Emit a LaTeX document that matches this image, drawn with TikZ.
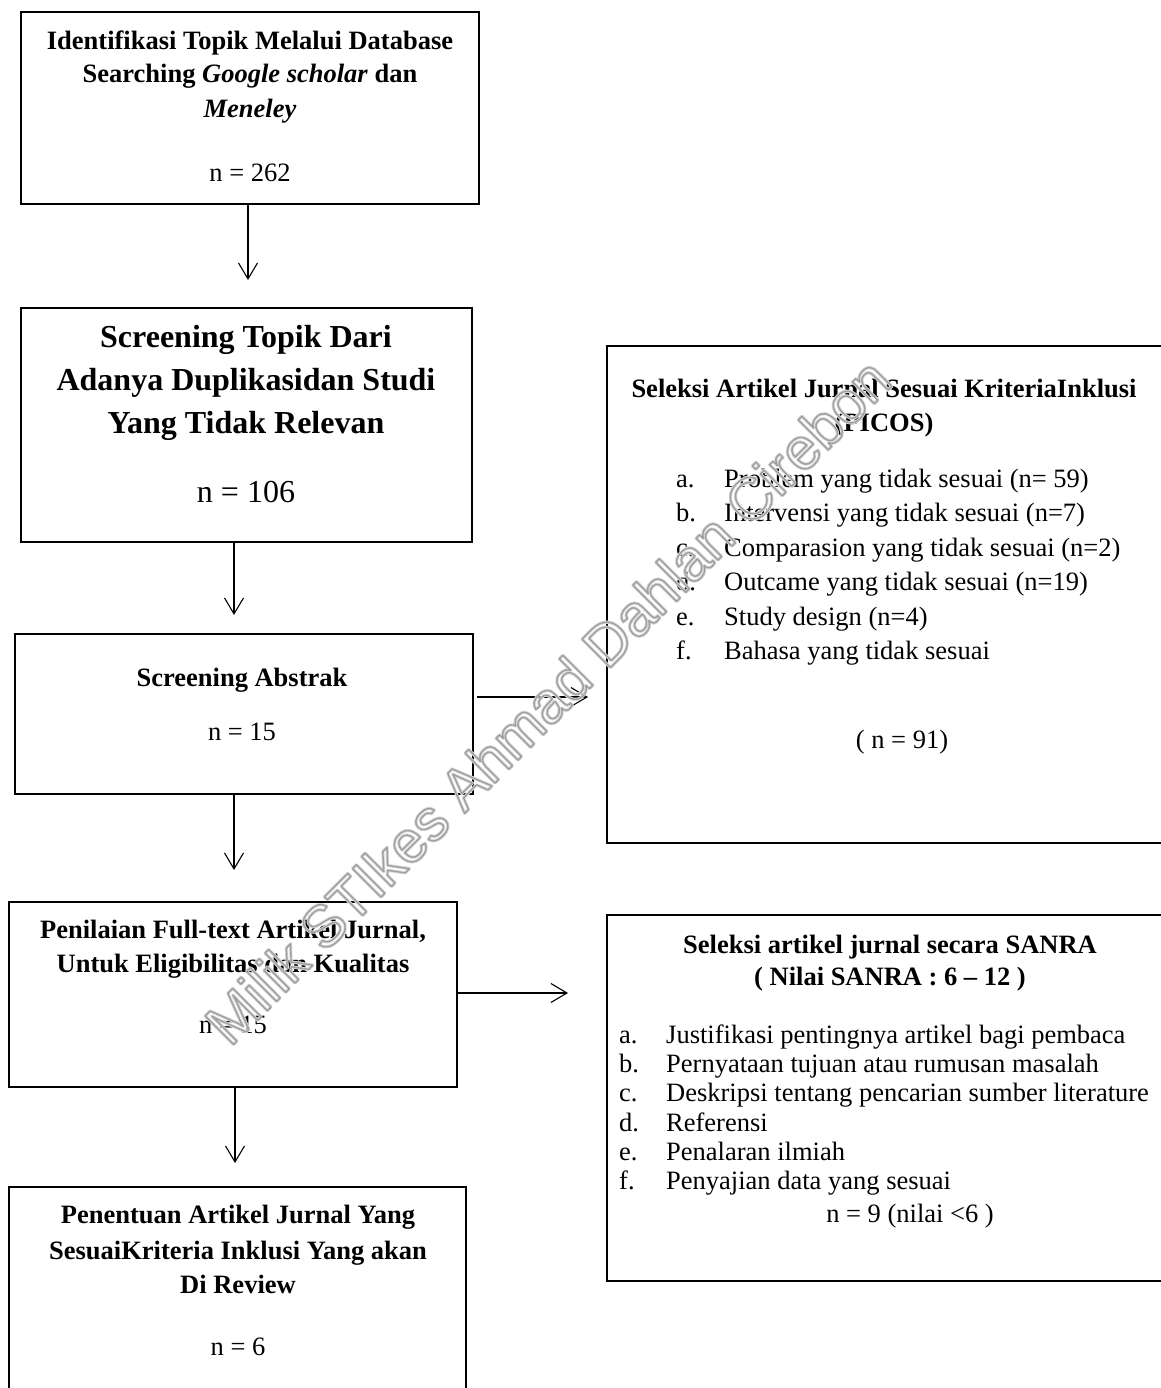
\documentclass[tikz,border=0pt]{standalone}
\usepackage{fontspec}
\setmainfont{Liberation Serif}
\newfontfamily\wmfont{Liberation Sans}
\usetikzlibrary{arrows.meta,calc}
\newcommand{\wmstroke}[2]{\special{pdf:literal direct 1 Tr #1 w 1 j}#2\special{pdf:literal direct 0 Tr}}
\begin{document}
\begin{tikzpicture}[x=1pt,y=-1pt,
  box/.style={draw, line width=2.4pt, inner sep=0pt},
  flow/.style={line width=1.1pt, -{Straight Barb[length=16pt,width=19pt,line width=1.1pt]}},
  hb/.style={font=\fontsize{26.5}{30}\selectfont\bfseries, anchor=base, inner sep=0pt},
  hbig/.style={font=\fontsize{32}{36}\selectfont\bfseries, anchor=base, inner sep=0pt},
  tx/.style={font=\fontsize{26.5}{30}\selectfont, anchor=base, inner sep=0pt},
  txbig/.style={font=\fontsize{32}{36}\selectfont, anchor=base, inner sep=0pt},
  lbl/.style={font=\fontsize{26.5}{30}\selectfont, anchor=base west, inner sep=0pt},
  wm/.style={font=\wmfont\fontsize{58.5}{64}\selectfont, rotate=45, anchor=base west, inner sep=0pt},
]
\useasboundingbox[fill=white] (0,0) rectangle (1160,1388);

% boxes
\node[box, minimum width=458pt, minimum height=192pt] (b1) at (250,108) {};
\node[box, minimum width=451pt, minimum height=234pt] (b2) at (246.5,425) {};
\node[box, minimum width=458pt, minimum height=160pt] (b3) at (244,714) {};
\node[box, minimum width=448pt, minimum height=185pt] (b4) at (233,994.5) {};
\node[box, minimum width=457pt, minimum height=233pt] (b5) at (237.5,1303.5) {};
\node[box, minimum width=568pt, minimum height=497pt] (picos) at (891,594.5) {};
\node[box, minimum width=568pt, minimum height=366pt] (sanra) at (891,1098) {};

% arrows
\coordinate (t1) at (248,280);
\coordinate (t2) at (234,615);
\coordinate (t3) at (234,870);
\coordinate (t4) at (235,1163);
\coordinate (r1) at (588,697);
\coordinate (r2) at (568,993);
\draw[flow] (t1 |- b1.south) -- (t1);
\draw[flow] (t2 |- b2.south) -- (t2);
\draw[flow] (t3 |- b3.south) -- (t3);
\draw[flow] (t4 |- b4.south) -- (t4);
\draw[flow] (b3.east |- r1) ++(3,0) coordinate (s1) (s1) -- (r1);
\draw[flow] (b4.east |- r2) -- (r2);

% box 1
\node[hb] (b1l1) at (250,50) {Identifikasi Topik Melalui Database};
\node[hb] (b1l2) at (250,83) {Searching \textit{Google scholar} dan};
\node[hb] (b1l3) at (250,118) {\textit{Meneley}};
\node[tx] (b1n) at (250,182) {n = 262};

% box 2
\node[hbig] (b2l1) at (246,347) {Screening Topik Dari};
\node[hbig] (b2l2) at (246,390) {Adanya Duplikasidan Studi};
\node[hbig] (b2l3) at (246,433) {Yang Tidak Relevan};
\node[txbig] (b2n) at (246,502) {n = 106};

% box 3
\node[hb] (b3l1) at (242,686) {Screening Abstrak};
\node[tx] (b3n) at (242,740) {n = 15};

% box 4
\node[hb] (b4l1) at (233,938) {Penilaian Full-text Artikel Jurnal,};
\node[hb] (b4l2) at (233,972) {Untuk Eligibilitas dan Kualitas};
\node[tx] (b4n) at (233,1033) {n = 15};

% box 5
\node[hb] (b5l1) at (238,1223) {Penentuan Artikel Jurnal Yang};
\node[hb] (b5l2) at (238,1259) {SesuaiKriteria Inklusi Yang akan};
\node[hb] (b5l3) at (238,1293) {Di Review};
\node[tx] (b5n) at (238,1355) {n = 6};

% PICOS box
\node[hb] (p1) at (884,397) {Seleksi Artikel Jurnal Sesuai KriteriaInklusi};
\node[hb] (p2) at (884,431) {(PICOS)};
\node[lbl] (pa) at (676,487) {a.};
\node[lbl] (pat) at (724,487) {Problem yang tidak sesuai (n= 59)};
\node[lbl] (pb) at (676,521.5) {b.};
\node[lbl] (pbt) at (724,521.5) {Intervensi yang tidak sesuai (n=7)};
\node[lbl] (pc) at (676,556) {c.};
\node[lbl] (pct) at (724,556) {Comparasion yang tidak sesuai (n=2)};
\node[lbl] (pd) at (676,590.5) {d.};
\node[lbl] (pdt) at (724,590.5) {Outcame yang tidak sesuai (n=19)};
\node[lbl] (pe) at (676,625) {e.};
\node[lbl] (pet) at (724,625) {Study design (n=4)};
\node[lbl] (pf) at (676,659.5) {f.};
\node[lbl] (pft) at (724,659.5) {Bahasa yang tidak sesuai};
\node[tx] (pn) at (902,748) {( n = 91)};

% SANRA box
\node[hb] (s1t) at (890,953) {Seleksi artikel jurnal secara SANRA};
\node[hb] (s2t) at (890,985) {( Nilai SANRA : 6 -- 12 )};
\node[lbl] (sa) at (619,1043) {a.};
\node[lbl] (sat) at (666,1043) {Justifikasi pentingnya artikel bagi pembaca};
\node[lbl] (sb) at (619,1072) {b.};
\node[lbl] (sbt) at (666,1072) {Pernyataan tujuan atau rumusan masalah};
\node[lbl] (sc) at (619,1101.5) {c.};
\node[lbl] (sct) at (666,1101.5) {Deskripsi tentang pencarian sumber literature};
\node[lbl] (sd) at (619,1131) {d.};
\node[lbl] (sdt) at (666,1131) {Referensi};
\node[lbl] (se) at (619,1160) {e.};
\node[lbl] (set) at (666,1160) {Penalaran ilmiah};
\node[lbl] (sf) at (619,1189.5) {f.};
\node[lbl] (sft) at (666,1189.5) {Penyajian data yang sesuai};
\node[tx] (sn) at (910,1222) {n = 9 (nilai <6 )};

% watermark (outlined text, hollow inside)
\coordinate (wmc) at (230,1048);
\node[wm, text=gray!30] (wmhalo) at (wmc) {\wmstroke{3.2}{Milik STIkes Ahmad Dahlan Cirebon}};
\node[wm, text=gray!75] (wmline) at (wmc) {\wmstroke{1.4}{Milik STIkes Ahmad Dahlan Cirebon}};
\end{tikzpicture}
\end{document}
